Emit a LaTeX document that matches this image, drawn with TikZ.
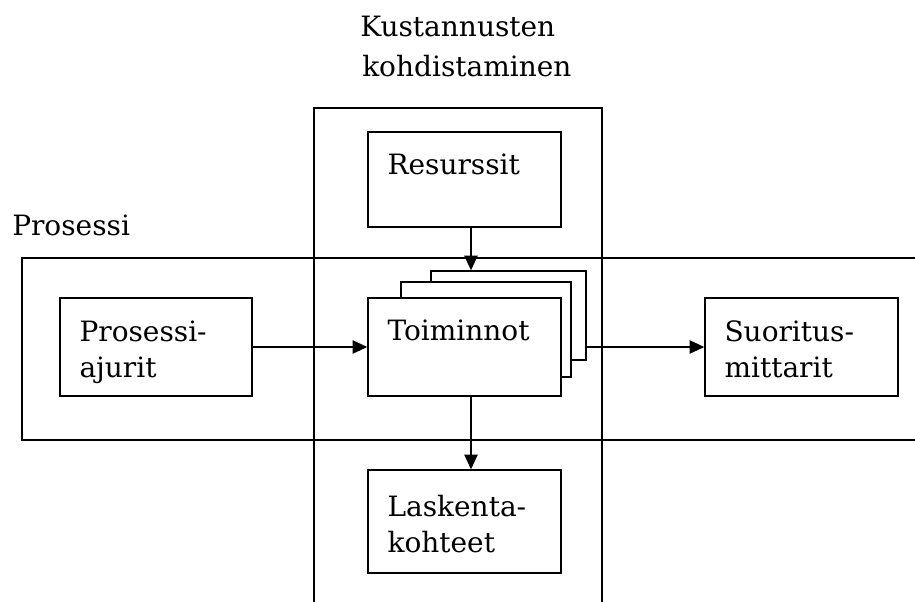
\documentclass[tikz,border=0pt]{standalone}
\usepackage{fontspec}
\setmainfont{DejaVu Serif}
\usetikzlibrary{arrows.meta,calc}
\tikzset{
  txt/.style={font=\fontsize{21}{27}\selectfont, inner sep=0pt, anchor=base west, align=left},
  box/.style={draw, line width=1.1pt, fill=white, inner sep=0pt},
  frame/.style={draw, line width=1.1pt},
  arr/.style={draw, line width=1.1pt, -{Triangle[length=11pt,width=10pt]}}
}
\begin{document}
\begin{tikzpicture}[x=0.75pt,y=-0.75pt]
\useasboundingbox (0,0) rectangle (915,601);
\begin{scope}
\clip (0,0) rectangle (915,601);
% the two crossing frames
\draw[frame] (314,650) -- (314,108) -- (602,108) -- (602,650);
\draw[frame] (960,258) -- (22,258) -- (22,440) -- (960,440);
\end{scope}

% headings
\node[txt] (hcost) at (360,36) {Kustannusten};
\node[txt] (hcost2) at (362,76) {kohdistaminen};
\node[txt] (hproc) at (12,235) {Prosessi};

% boxes
\node[box, minimum width=193*0.75pt, minimum height=95*0.75pt] (res) at (464.5,179.5) {};
\node[box, minimum width=155*0.75pt, minimum height=89*0.75pt] (back) at (508.5,315.5) {};
\node[box, minimum width=170*0.75pt, minimum height=95*0.75pt] (mid) at (486,329.5) {};
\node[box, minimum width=193*0.75pt, minimum height=98*0.75pt] (act) at (464.5,347) {};
\node[box, minimum width=192*0.75pt, minimum height=98*0.75pt] (drv) at (156,347) {};
\node[box, minimum width=193*0.75pt, minimum height=98*0.75pt] (perf) at (801.5,347) {};
\node[box, minimum width=193*0.75pt, minimum height=103*0.75pt] (obj) at (464.5,521.5) {};

% box texts (base anchor of a two-line node sits on its last line)
\node[txt] (tres) at ($(res.north west)+(20,43)$) {Resurssit};
\node[txt] (tact) at ($(act.north west)+(20,43)$) {Toiminnot};
\node[txt] (tdrv) at ($(drv.north west)+(20,80)$) {Prosessi-\\ajurit};
\node[txt] (tperf) at ($(perf.north west)+(20,80)$) {Suoritus-\\mittarit};
\node[txt] (tobj) at ($(obj.north west)+(20,83)$) {Laskenta-\\kohteet};

% connectors
\coordinate (rs) at ($(res.south)+(6.5,0)$);
\coordinate (as) at ($(act.south)+(6.5,0)$);
\draw[arr] (rs) -- (rs |- back.north);
\draw[arr] (drv.east) -- (act.west);
\draw[arr] (back.east |- perf.west) -- (perf.west);
\draw[arr] (as) -- (as |- obj.north);
\end{tikzpicture}
\end{document}
